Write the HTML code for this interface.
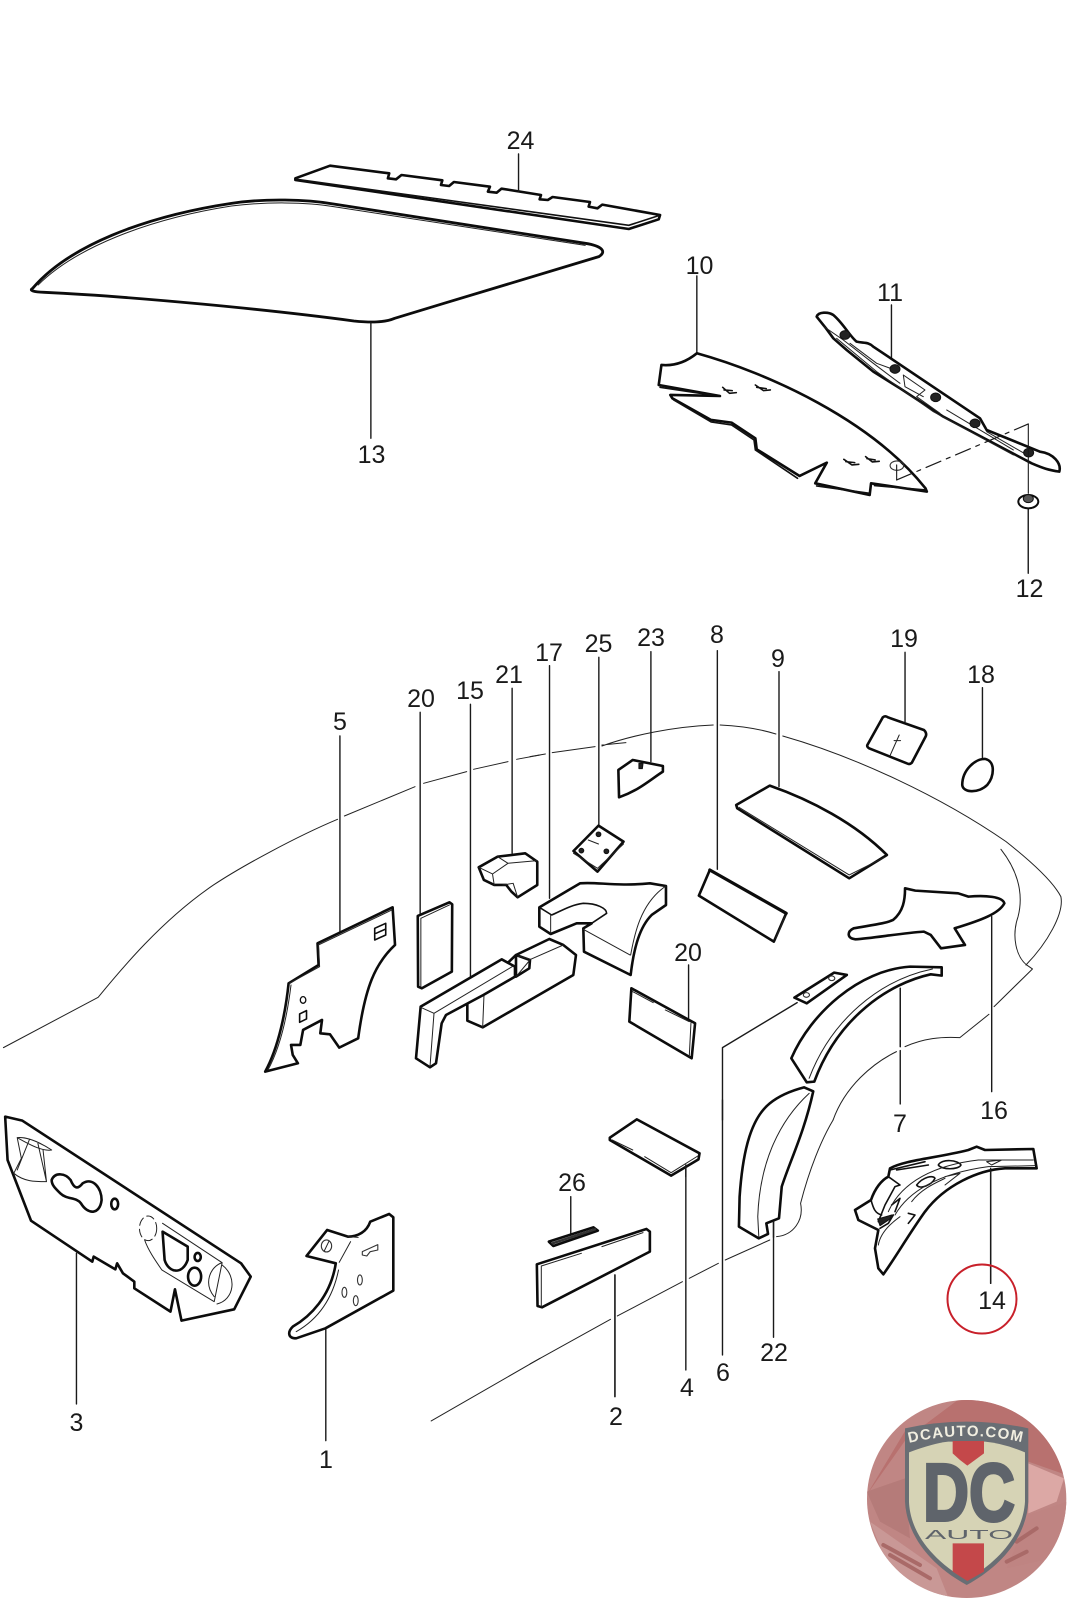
<!DOCTYPE html>
<html><head><meta charset="utf-8"><style>
html,body{margin:0;padding:0;background:#fff}
svg{display:block}
path,ellipse,circle,rect,line{vector-effect:non-scaling-stroke;stroke-linejoin:round;stroke-linecap:round}
.b{fill:#fff;stroke:#0c0c0c;stroke-width:2.6}
.n{fill:none;stroke:#0c0c0c;stroke-width:2.6}
.m{fill:none;stroke:#111;stroke-width:1.6}
.t{fill:none;stroke:#222;stroke-width:1}
.c{fill:none;stroke:#333;stroke-width:1.1}
.l{fill:none;stroke:#1a1a1a;stroke-width:1.4}
.d{fill:#222;stroke:#111;stroke-width:1}
text{font-family:"Liberation Sans",sans-serif}
.lb text{font-size:25px;fill:#1a1a1a;text-anchor:middle}
</style></head><body>
<svg width="1067" height="1600" viewBox="0 0 1067 1600" xmlns="http://www.w3.org/2000/svg">
<rect width="1067" height="1600" fill="#fff"/>
<defs>
<clipPath id="lg"><ellipse cx="320" cy="312" rx="299" ry="297"/></clipPath>
<path id="arc" d="M909 1443 Q967 1429 1026 1443"/>
</defs>

<!-- TOP -->
<g transform="translate(0,100) scale(.6805,.3333)">
<path class="b" d="M434 235 L485 197 L572 220 L570 235 L582 238 L590 225 L650 241 L648 255 L660 258 L667 246 L720 260 L717 275 L730 278 L737 266 L795 285 L793 298 L805 300 L812 291 L867 306 L865 320 L878 325 L885 314 L970 345 L968 358 L924 387 L434 240 Z"/>
<path class="m" d="M436 238 L924 376 L968 347"/>
<path class="b" style="stroke-width:2.8" d="M48 565 C100 440 210 350 340 310 C390 295 450 298 490 312 L860 430 C885 438 892 455 880 470 C850 490 700 580 580 655 C565 668 545 668 520 663 C400 630 200 590 65 577 C50 576 42 572 48 565 Z"/>
<path class="t" d="M56 555 C110 445 215 358 340 318 C390 305 450 306 490 320 L860 436"/>
<path class="l" d="M762 162 L762 275 M545 668 L545 1015 M1024 528 L1024 760 M1310 615 L1310 795 M1511 1225 L1511 1420"/>
<path class="b" d="M1024 760 C1130 820 1280 960 1360 1165 L1362 1175 L1280 1150 L1278 1185 L1198 1150 L1215 1088 L1175 1128 L1112 1048 L1110 1015 L1075 968 L1045 960 L988 895 L985 885 L1058 888 L968 855 L972 795 Q1000 800 1024 760 Z"/>
<path class="m" d="M970 862 L1045 885 M990 900 L1045 966 L1075 975 L1108 1020 L1110 1050 L1172 1135 M1200 1158 L1278 1180 M1285 1157 L1360 1170"/>
<path class="m" d="M1062 862 L1072 880 L1082 878 M1064 870 L1076 872 M1110 855 L1122 872 L1132 870 M1112 862 L1126 866 M1240 1078 L1252 1095 L1262 1093 M1243 1085 L1256 1088 M1272 1070 L1282 1086 L1292 1084 M1274 1076 L1286 1080"/>
<ellipse class="c" cx="1318" cy="1097" rx="10" ry="14"/>
</g>

<!-- PART 11, nut -->
<g transform="translate(800,300) scale(.3333)">
<path class="b" d="M50 50 C55 35 85 35 100 45 C130 70 150 110 170 125 C190 130 205 125 220 140 L540 355 L560 390 L720 455 C760 460 785 490 778 515 C745 510 730 505 695 490 L430 350 L300 265 L220 215 L140 150 L100 115 L78 85 Z"/>
<path class="t" d="M72 80 L130 120 L220 190 L300 250 M150 130 L230 190 L285 210 M110 115 L230 215 L400 335 L640 465 M310 225 L315 260 L370 290 M310 225 L375 270 L350 290 L420 340 M440 330 L640 450 M560 395 L690 470"/>
<ellipse class="d" cx="135" cy="105" rx="15" ry="13"/>
<ellipse class="d" cx="285" cy="207" rx="15" ry="13"/>
<ellipse class="d" cx="407" cy="292" rx="15" ry="13"/>
<ellipse class="d" cx="525" cy="370" rx="15" ry="13"/>
<ellipse class="d" cx="686" cy="458" rx="15" ry="13"/>
<path class="l" style="stroke-width:1.1" d="M290 495 L290 540 M685 372 L685 580"/>
<path class="l" style="stroke-width:1.2" d="M290 540 L685 372" stroke-dasharray="16 6 4 6"/>
<ellipse class="b" style="stroke-width:2" cx="685" cy="605" rx="30" ry="20"/>
<ellipse cx="685" cy="596" rx="15" ry="12" fill="#555" stroke="#111" stroke-width="1"/>
</g>

<!-- CAR OUTLINE -->
<g transform="translate(0,620) scale(.3444,.3333)">
<path class="t" d="M10 1283 L285 1132 C350 1050 470 900 620 795 C700 740 860 650 980 598 M1000 588 L1205 500 M1230 490 L1355 455 M1375 448 L1475 425 M1500 418 L1568 405"/>
</g>
<g transform="translate(530,620) scale(.3425,.3333)">
<path class="t" d="M0 410 L45 402 M65 398 L190 380 M210 375 L280 368 M210 378 C300 345 420 320 535 315 M555 315 C620 318 680 330 718 342 M738 348 C950 410 1200 530 1390 665 C1470 730 1530 790 1550 830 C1560 880 1510 970 1448 1035 M1375 688 C1430 760 1440 830 1425 890 C1405 950 1420 1010 1450 1035 L1467 1047 L1355 1160 M1340 1183 L1255 1253 C1200 1250 1150 1255 1095 1280 M1070 1295 C1000 1330 920 1400 885 1500"/>
</g>
<g transform="translate(530,1100) scale(.3425,.3333)">
<path class="t" d="M885 60 C850 120 815 210 790 310 C800 360 770 405 720 410 M700 420 L570 480 M550 490 L465 535 M445 545 L255 648 M235 658 L0 792"/>
</g>
<g transform="translate(0,1100) scale(.3444,.3333)">
<path class="t" d="M1252 963 L1568 775"/>
</g>

<!-- MID LEFT -->
<g transform="translate(0,620) scale(.3444,.3333)">
<path class="l" d="M987 348 L987 935 M1220 277 L1220 885 M1366 253 L1366 1075 M1487 205 L1487 700"/>
<path class="b" d="M770 1355 C810 1280 830 1170 838 1090 L925 1035 L922 970 L1140 862 L1147 975 C1090 1030 1060 1100 1040 1255 L985 1283 L958 1243 L930 1240 L935 1200 L880 1230 L872 1275 L845 1275 L850 1305 L865 1330 Z"/>
<path class="t" d="M925 975 L1138 870 M845 1095 C835 1180 815 1280 778 1350 M928 1040 L925 975 M840 1090 L928 1040"/>
<ellipse class="n" style="stroke-width:1.3" cx="880" cy="1140" rx="8" ry="10"/>
<path class="n" style="stroke-width:1.6" d="M1088 925 L1120 910 L1120 945 L1088 960 Z M1092 940 L1118 928"/>
<path class="n" style="stroke-width:1.6" d="M870 1182 L890 1172 L890 1197 L870 1207 Z"/>
<path class="b" d="M1213 888 L1305 847 L1313 853 L1312 1055 L1225 1105 L1214 1100 Z"/>
<path class="t" d="M1222 895 L1305 855 M1222 895 L1222 1100"/>
<path class="b" d="M1390 742 L1445 710 L1525 700 L1560 725 L1560 795 L1503 832 L1485 815 L1470 795 L1435 795 L1405 780 Z"/>
<path class="t" d="M1390 742 L1430 762 L1475 730 L1560 722 M1445 710 L1475 730 M1430 762 L1435 795 M1460 795 L1490 790 L1503 832"/>
</g>

<!-- MID RIGHT -->
<g transform="translate(530,620) scale(.3425,.3333)">
<path class="l" d="M57 137 L57 835 M201 112 L201 615 M353 95 L353 425 M547 92 L547 748 M727 155 L727 500 M1095 97 L1095 305 M1321 203 L1321 415 M463 1035 L463 1195"/>
<path class="b" d="M127 693 L200 617 L273 665 L197 755 Z"/>
<path class="t" d="M127 700 L197 745 L273 672 M170 660 L200 672"/>
<ellipse class="d" cx="150" cy="692" rx="7" ry="7"/>
<ellipse class="d" cx="200" cy="643" rx="7" ry="7"/>
<ellipse class="d" cx="223" cy="694" rx="7" ry="7"/>
<path class="b" d="M258 450 L300 420 L388 438 L388 455 C350 480 320 510 260 532 Z"/>
<path class="d" d="M318 430 L330 430 L328 446 L318 446 Z"/>
<path class="b" d="M525 750 L748 880 L712 965 L493 827 Z"/>
<path class="n" style="stroke-width:3.2" d="M525 750 L748 880"/>
<path class="t" d="M745 888 L718 955"/>
<path class="b" d="M602 555 L700 497 C820 540 950 610 1042 705 L932 775 L605 565 Z"/>
<path class="t" d="M610 562 L932 765 L1035 712"/>
<path class="b" d="M985 375 L1030 292 Q1037 286 1045 292 L1150 330 Q1160 340 1155 350 L1115 428 Q1108 435 1100 430 L990 385 Q983 380 985 375 Z"/>
<path class="t" d="M1052 405 L1078 345 M1063 362 L1082 362"/>
<path class="n" d="M1262 495 C1262 450 1300 415 1330 417 C1360 425 1355 470 1335 495 C1310 520 1265 520 1262 495 Z"/>
<path class="b" d="M1095 805 L1125 812 L1250 820 L1280 830 C1330 825 1380 830 1385 850 C1370 880 1320 900 1240 925 L1270 975 L1200 985 L1170 945 L1150 935 C1080 940 1000 955 950 958 C925 955 925 935 945 925 C1000 915 1040 910 1060 900 C1090 875 1095 840 1095 805 Z"/>
<path class="l" d="M1348 890 L1348 1415 M1081 1105 L1081 1280 M1081 1292 L1081 1452"/>
<path class="b" d="M763 1315 C820 1180 960 1050 1110 1040 L1202 1042 L1202 1067 L1170 1063 C1050 1090 900 1190 830 1385 L808 1387 Z"/>
<path class="t" d="M815 1375 C880 1200 1020 1080 1175 1047"/>
<path class="l" d="M1081 1105 L1081 1280"/>
<path class="b" d="M772 1133 L888 1058 L925 1065 L808 1150 Z"/>
<ellipse class="c" cx="807" cy="1125" rx="9" ry="7"/>
<ellipse class="c" cx="881" cy="1075" rx="9" ry="7"/>
<path class="l" d="M780 1148 L562 1283 L562 1500"/>
<path class="b" d="M296 1105 L482 1210 L472 1315 L290 1205 Z"/>
<path class="t" d="M470 1208 L465 1310 M300 1115 L360 1148 M395 1170 L465 1205"/>
</g>

<!-- BLOCKS 15 / 17 -->
<g transform="translate(410,870) scale(.3333)">
<path class="b" d="M388 112 L510 40 C560 35 620 50 720 40 L768 48 L768 105 L725 135 C690 170 672 230 662 315 L522 245 L520 175 L545 160 L500 160 L422 192 L388 170 Z"/>
<path class="m" d="M388 112 L425 135 C450 125 480 105 520 100 C560 100 590 115 590 130 L545 160"/>
<path class="t" d="M520 178 L660 255 M768 48 C690 100 672 200 662 255 M422 135 L422 190"/>
<path class="b" d="M172 395 L172 452 L218 472 L490 315 L498 255 L460 225 L418 207 L318 255 L318 320 L358 295 L360 270 L318 255 Z"/>
<path class="t" d="M325 258 L362 268 L460 225 M318 320 L360 270 M222 375 L218 472"/>
<path class="b" d="M32 410 L275 268 L315 290 L315 320 L220 375 L108 435 L95 460 L78 580 L60 592 L18 565 Z"/>
<path class="t" d="M32 412 L72 430 L310 288 M72 430 L60 590"/>
</g>

<!-- BOTTOM LEFT -->
<g transform="translate(0,1100) scale(.3444,.3333)">
<path class="l" d="M946 688 L946 1022 M222 460 L222 912"/>
<path class="b" d="M15 50 L65 62 L700 490 L728 530 L680 628 L527 662 L508 568 L495 635 L390 565 L390 545 L357 520 L340 490 L335 508 L272 470 L268 485 L90 362 L22 180 Z"/>
<path class="n" d="M150 240 C160 215 190 220 205 240 C215 265 225 270 240 250 C270 230 295 265 295 300 C290 345 255 345 235 310 C220 290 195 300 175 280 C160 265 150 255 150 240 Z"/>
<ellipse class="n" cx="333" cy="312" rx="10" ry="16"/>
<path class="n" d="M472 395 L545 440 L545 480 C530 525 490 520 478 480 Z"/>
<ellipse class="n" cx="565" cy="530" rx="19" ry="27"/>
<ellipse class="n" cx="574" cy="471" rx="9" ry="12"/>
<path class="t" d="M472 370 L645 488 L622 605 L470 510 C450 480 430 450 420 420 M645 488 C610 500 590 550 622 590 M645 495 C690 530 680 600 630 612"/>
<ellipse class="t" cx="430" cy="385" rx="25" ry="37" stroke-dasharray="8 4"/>
<path class="t" d="M50 113 C80 110 120 130 150 150 C120 155 80 130 50 113 M50 113 L62 175 L40 220 C70 245 100 245 135 245 L110 130 M85 120 L50 210 M125 150 L135 245"/>
<path class="b" d="M890 468 L950 390 L1010 410 C1040 410 1065 395 1075 365 L1130 342 L1142 352 L1142 572 L945 685 L860 715 C835 715 835 695 850 680 C900 650 960 590 975 490 Z"/>
<path class="t" d="M860 695 C920 660 965 600 983 510 M985 487 L1018 425 M1010 410 L1040 412"/>
<ellipse class="c" cx="948" cy="438" rx="15" ry="18"/>
<path class="t" d="M942 452 L955 424"/>
<path class="c" d="M1052 465 L1052 455 L1097 434 L1097 450 L1075 455 L1065 468 Z"/>
<ellipse class="c" cx="1045" cy="540" rx="7" ry="15"/>
<ellipse class="c" cx="1000" cy="577" rx="7" ry="15"/>
<ellipse class="c" cx="1033" cy="602" rx="7" ry="15"/>
</g>

<!-- BOTTOM RIGHT -->
<g transform="translate(530,1100) scale(.3425,.3333)">
<path class="l" d="M711 365 L711 712 M248 525 L248 890 M455 195 L455 810 M119 290 L119 400 M562 0 L562 765"/>
<path class="b" d="M233 113 L312 58 L495 160 L492 178 L412 227 L233 120 Z"/>
<path class="t" d="M240 120 L300 150 M335 170 L412 218 L490 168"/>
<path class="l" d="M455 195 L455 230"/>
<path class="b" d="M55 425 L185 382 L198 392 L68 438 Z"/>
<path class="n" style="stroke-width:2.4;stroke:#333" d="M66 430 L190 388"/>
<path class="b" d="M20 493 L340 387 L350 395 L350 455 L35 622 L22 618 Z"/>
<path class="t" d="M33 498 L33 620 M33 498 L150 460 M210 440 L330 398"/>
<path class="l" d="M248 525 L248 890"/>
<path class="b" d="M610 380 L612 290 C620 170 640 60 700 10 C730 -15 770 -30 800 -38 L827 -26 C800 100 760 180 735 260 L727 355 L690 370 L695 402 L668 415 Z"/>
<path class="t" d="M665 350 L668 410 M665 350 C670 200 720 70 815 -20"/>
<path class="l" d="M711 365 L711 412"/>
</g>

<!-- PART 14 -->
<g transform="translate(845,1135) scale(.3333)">
<path class="l" d="M437 100 L437 445"/>
<path class="b" d="M30 225 L78 195 C90 160 110 135 130 125 L135 100 C180 75 270 70 370 45 L395 35 L420 45 L565 42 L575 100 L480 100 C400 105 300 150 240 230 C190 300 150 370 115 418 L100 400 L90 340 L100 285 L40 255 Z"/>
<path class="m" d="M130 125 L165 150 L150 155 L120 210 L100 260 M135 105 L240 80 M155 105 L250 90 M280 90 C290 70 340 75 348 90 C340 105 290 105 280 90 Z M215 150 C235 125 265 120 270 130 C260 150 225 165 215 150 Z M100 255 L145 240 L130 265 L105 280 M190 235 L210 240 L190 265 M40 255 L100 285 M78 195 C85 220 90 235 110 240 M140 210 L165 190 L150 230"/>
<path class="t" d="M130 230 C170 140 270 90 400 75 L565 75 M150 240 C190 170 280 115 430 95 L570 92 M100 330 C105 300 130 270 165 245 M425 80 L470 75 L440 90 Z M300 125 L345 115 L300 150 M200 200 C230 160 280 140 300 130"/>
<path class="d" d="M98 252 L140 240 L135 252 L105 272 Z"/>
<path class="l" d="M437 100 L437 445"/>
</g>

<!-- LOGO -->
<g transform="translate(860,1395) scale(.3333)">
<ellipse cx="320" cy="312" rx="299" ry="297" fill="#c08684"/>
<g clip-path="url(#lg)">
<path d="M20 300 L140 130 L300 10 L620 10 L620 240 L505 200 L140 100 Z" fill="#b8716f"/>
<path d="M20 290 L135 250 L150 430 L60 380 Z" fill="#b57b79"/>
<path d="M505 205 L612 250 L590 320 L505 355 Z" fill="#dca8a5"/>
<path d="M505 360 L620 320 L620 480 L440 520 Z" fill="#bf8482"/>
<path d="M30 380 L230 520 L270 620 L110 580 Z" fill="#c99896"/>
<path d="M70 450 L180 510 M90 480 L210 550 M470 440 L530 400 M440 500 L500 470" stroke="#a96a68" stroke-width="4" fill="none"/>
</g>
<path d="M135 100 Q320 60 505 100 L505 320 C500 420 430 510 320 570 C210 510 140 420 135 320 Z" fill="#696e74"/>
<path d="M147 172 Q220 145 265 140 L375 140 Q430 145 495 172 L495 320 C490 410 425 495 320 555 C215 495 150 410 147 320 Z" fill="#d6d3b5"/>
<path d="M278 138 L372 138 L372 175 L345 195 L322 212 L300 195 L278 175 Z" fill="#c4484a"/>
<path d="M278 445 L372 445 L372 530 L322 558 L278 530 Z" fill="#c4484a"/>
</g>
<text font-size="15" font-weight="bold" fill="#f1eee0" letter-spacing="1.200"><textPath href="#arc">DCAUTO.COM</textPath></text>
<text x="969" y="1520.500" text-anchor="middle" font-size="82" font-weight="bold" fill="#5f646b" stroke="#5f646b" stroke-width="3" textLength="92" lengthAdjust="spacingAndGlyphs">DC</text>
<text x="969" y="1539" text-anchor="middle" font-size="12.500" fill="#5f646b" textLength="88" lengthAdjust="spacingAndGlyphs">AUTO</text>

<!-- RED CIRCLE -->
<circle cx="982" cy="1299" r="34.500" fill="none" stroke="#c8202a" stroke-width="2"/>

<!-- LABELS -->
<g class="lb">
<text x="520.500" y="149">24</text>
<text x="371.500" y="463">13</text>
<text x="699.500" y="274">10</text>
<text x="890" y="301">11</text>
<text x="1029.500" y="597">12</text>
<text x="340" y="730">5</text>
<text x="421" y="707">20</text>
<text x="470" y="699">15</text>
<text x="509" y="683">21</text>
<text x="549" y="661">17</text>
<text x="598.500" y="652">25</text>
<text x="651" y="646">23</text>
<text x="717" y="643">8</text>
<text x="778" y="667">9</text>
<text x="904" y="647">19</text>
<text x="981" y="683">18</text>
<text x="688" y="961">20</text>
<text x="994" y="1119">16</text>
<text x="900" y="1132">7</text>
<text x="76.500" y="1431">3</text>
<text x="326" y="1468">1</text>
<text x="616" y="1425">2</text>
<text x="687" y="1396">4</text>
<text x="723" y="1381">6</text>
<text x="774" y="1361">22</text>
<text x="572" y="1191">26</text>
<text x="992" y="1309">14</text>
</g>
</svg>
</body></html>
